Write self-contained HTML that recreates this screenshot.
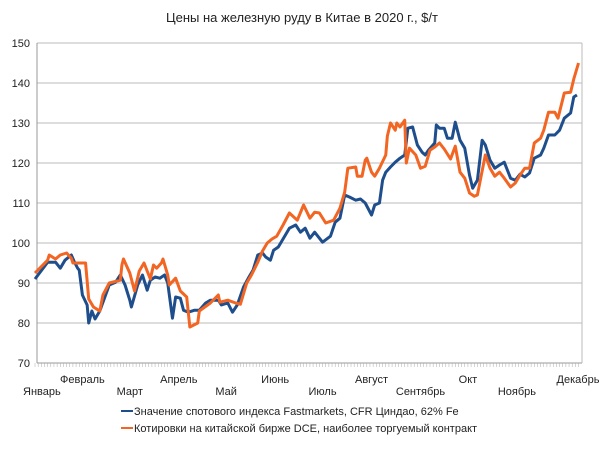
<!DOCTYPE html>
<html><head><meta charset="utf-8"><style>
body{margin:0;background:#fff;font-family:"Liberation Sans",sans-serif;}
svg text{font-family:"Liberation Sans",sans-serif;fill:#222;}
</style></head><body>
<svg width="604" height="445" viewBox="0 0 604 445" xmlns="http://www.w3.org/2000/svg">
<text x="302" y="22" text-anchor="middle" font-size="13">Цены на железную руду в Китае в 2020 г., $/т</text>
<g id="grid"></g><g id="axes"></g><g id="series"></g>
<g font-size="11">
<line x1="121" y1="411" x2="133" y2="411" stroke="#1f4e8c" stroke-width="2"/>
<text x="134" y="415">Значение спотового индекса Fastmarkets, CFR Циндао, 62% Fe</text>
<line x1="121" y1="428" x2="133" y2="428" stroke="#f26522" stroke-width="2"/>
<text x="134" y="432">Котировки на китайской бирже DCE, наиболее торгуемый контракт</text>
</g>
</svg>
<script>
const yTicks=[70,80,90,100,110,120,130,140,150];
const months=["Январь","Февраль","Март","Апрель","Май","Июнь","Июль","Август","Сентябрь","Окт","Ноябрь","Декабрь"];
const monthDays=[0,30,60,91,121,152,182,213,244,274,305,335];
const dceDays=[0,8,9,13,16,20,23,24,32,34,37,41,43,47,54,55,56,60,63,66,69,73,75,77,80,81,84,85,89,92,96,98,103,104,111,116,117,122,127,130,134,137,141,144,147,150,153,157,161,166,170,174,177,180,184,189,193,196,198,203,204,207,209,210,213,215,218,222,223,225,228,229,231,234,235,237,241,244,247,250,253,256,259,263,266,269,272,275,278,280,285,288,291,294,297,301,304,307,310,313,316,320,322,325,329,331,335,339,341,344];
const dceVals=[92.5,95.7,97,96,97,97.5,96.2,95,95,86,84,83,87,90,90.7,94.5,96,92.5,88,93,95,91,94.5,93.7,95,96,92,89.5,91.2,88,86.5,79,80,83,85,87,85.2,85.7,85,84.7,90,92,95.2,98,100,101,101.7,104.5,107.5,105.7,109.5,106.2,107.7,107.5,105,105.7,108.7,112.7,118.7,119,116.7,116.7,120.7,121.2,117.7,116.7,118.7,122,126.7,130,128.2,130,129,130.7,120,123.7,122,118.7,119.2,123.2,124,125,123.5,121,124.2,117.7,116.2,112.5,111.7,112,122,118.7,116.7,117.7,116.2,114,115,117,118.7,118.7,125,126.2,128.2,132.7,132.7,131.2,137.5,137.7,141,145];
const fmDays=[0,8,13,16,19,23,25,27,28,30,33,34,36,38,41,47,51,54,57,60,61,65,68,70,71,73,76,79,82,84,87,89,92,94,97,101,104,108,111,116,118,122,125,128,132,135,138,141,144,146,149,151,154,161,165,168,171,174,177,182,187,190,193,196,199,203,206,209,213,215,218,220,222,225,228,231,234,236,239,242,245,247,249,253,254,256,259,261,264,266,269,272,275,277,280,283,285,288,291,294,297,301,304,307,310,313,316,320,322,325,329,332,335,339,341,343];
const fmVals=[91,95.2,95.2,93.7,95.7,97,95.2,93.7,93.2,87,84.5,80,83,81,83,89.5,90.2,92,89.5,85.7,84,89.5,92,89.5,88.2,90.7,91.5,91.2,92,90,81.2,86.5,86.2,83.2,82.7,83.2,83.2,85,85.7,85.7,84.5,85,82.7,84.5,89,91.2,93.2,97,97.5,96.5,95.7,98.2,99,103.7,104.5,102.7,103.7,101.2,102.7,100.2,101.7,105.2,106.2,112,111.5,110.7,111,110,107,109.5,110,115.7,117.7,119,120.2,121.2,122,128.7,129,124.5,122.7,122,123.2,125,129.5,128.7,128.7,126.2,126.2,130.2,125.7,123.7,117,113.7,115.7,125.7,124.5,120.7,118.7,119.5,120.2,116.2,115.7,117.2,116.5,117.5,121.2,122,123.7,127,127,128.2,131.2,132.5,136.5,137];
const X=d=>35+d*1.58, Y=v=>43+(150-v)*4;
const NS="http://www.w3.org/2000/svg";
function mk(t,a,p){const e=document.createElementNS(NS,t);for(const k in a)e.setAttribute(k,a[k]);p.appendChild(e);return e;}
const grid=document.getElementById('grid'),axes=document.getElementById('axes'),ser=document.getElementById('series');
yTicks.forEach(v=>{
 const l=mk('line',{x1:37,x2:582,y1:Y(v),y2:Y(v),stroke:v===70?'#999':'#bbb','stroke-width':1},grid);
 
 
 const t=mk('text',{x:30,y:Y(v)+4,'text-anchor':'end','font-size':11},axes);
 t.textContent=v;
 
 
});
mk('line',{x1:37,x2:37,y1:43,y2:363,stroke:'#999'},axes);
mk('line',{x1:582,x2:582,y1:43,y2:363,stroke:'#bbb'},axes);
for(let d=0;d<=345;d+=2){mk('line',{x1:X(d),x2:X(d),y1:363,y2:367,stroke:'#aaa','stroke-width':0.5},axes);}
months.forEach((m,i)=>{
 const t=mk('text',{x:X(monthDays[i])+ (i===0?-12:0),y:i%2?383:395,'text-anchor':i===0?'start':'middle','font-size':11},axes);
 if(i===11)t.setAttribute('x',578);
 t.textContent=m;
 
 
});
function line(days,vals,col,name){
 const n=Math.min(days.length,vals.length);
 const pts=[];for(let i=0;i<n;i++)pts.push(X(days[i])+','+Y(vals[i]));
 const p=mk('polyline',{points:pts.join(' '),fill:'none',stroke:col,'stroke-width':3,'stroke-linejoin':'round'},ser);
 
 
}
line(fmDays,fmVals,'#1f4e8c','fastmarkets-line');
line(dceDays,dceVals,'#f26522','dce-line');
</script>
</body></html>
